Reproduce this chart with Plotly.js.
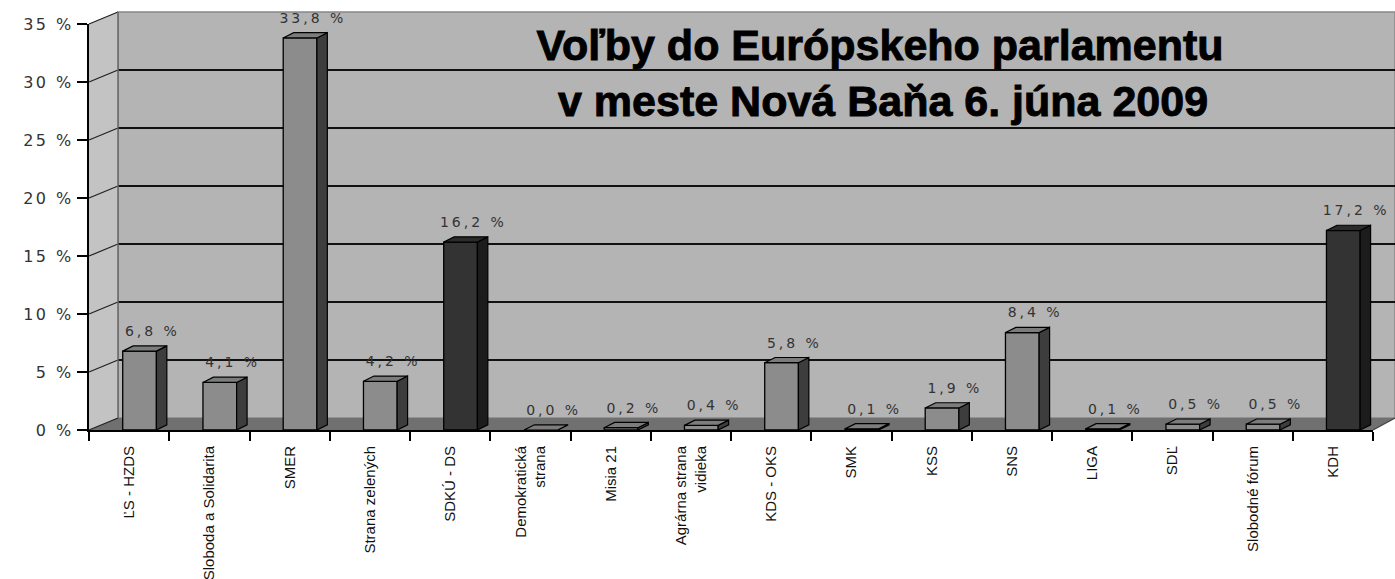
<!DOCTYPE html>
<html>
<head>
<meta charset="utf-8">
<script src="https://cdn.plot.ly/plotly-3.0.1.min.js"></script>
<style>
html,body{margin:0;padding:0;background:#fff;}
#chart .ytick text{letter-spacing:2.5px;}
#chart .textpoint text{letter-spacing:3px;}
#chart .gtitle, #chart .annotation-text{stroke:#000;stroke-width:0.9px;}
</style>
</head>
<body>
<div id="chart" style="width:1395px;height:579px;"></div>
<script>
// ---- data ----
const categories = ['ĽS - HZDS', 'Sloboda a Solidarita', 'SMER', 'Strana zelených', 'SDKÚ - DS',
  'Demokratická<br>strana', 'Misia 21', 'Agrárna strana<br>vidieka', 'KDS - OKS', 'SMK', 'KSS',
  'SNS', 'LIGA', 'SDĽ', 'Slobodné fórum', 'KDH'];
const values = [6.8, 4.1, 33.8, 4.2, 16.2, 0.0, 0.2, 0.4, 5.8, 0.1, 1.9, 8.4, 0.1, 0.5, 0.5, 17.2];
const darkParties = ['SDKÚ - DS', 'KDH'];
const yTicks = [0, 5, 10, 15, 20, 25, 30, 35];
const titleLine1 = 'Voľby do Európskeho parlamentu';
const titleLine2 = 'v meste Nová Baňa 6. júna 2009';

// ---- geometry / style ----
const yMax = 35;
const plotL = 89, plotR = 22, plotT = 24, plotB = 149;
const W = 1395, H = 579;
const plotW = W - plotL - plotR, plotH = H - plotT - plotB;
const wallDXpx = 29, wallDYpx = 12;
const wallX0 = wallDXpx / plotW;
const wallX1 = (W - plotL) / plotW;
const wallDY = wallDYpx / plotH; // paper units
const barOff = -0.08, barW = 0.42, depthX = 0.13, depthY = 0.45;

const idx = categories.map((c, i) => i);
const isDark = categories.map(c => darkParties.includes(c));
const front = isDark.map(d => d ? '#333333' : '#8c8c8c');

function polys(sel, kind) {
  const xs = [], ys = [];
  idx.forEach(i => {
    if (isDark[i] !== sel) return;
    const v = values[i];
    const xl = i + barOff, xr = i + barOff + barW;
    if (kind === 'side') {
      xs.push(xr, xr + depthX, xr + depthX, xr, xr, null);
      ys.push(0, depthY, v + depthY, v, 0, null);
    } else {
      xs.push(xl, xr, xr + depthX, xl + depthX, xl, null);
      ys.push(v, v, v + depthY, v + depthY, v, null);
    }
  });
  return {xs, ys};
}

const traces = [{
  type: 'bar', x: idx, y: values, offset: barOff, width: barW,
  marker: {color: front, line: {color: '#000', width: 1.3}},
  hoverinfo: 'skip'
}];
[[false, 'side', '#3d3d3d'], [true, 'side', '#1c1c1c'], [false, 'top', '#7c7c7c'], [true, 'top', '#2b2b2b']]
  .forEach(([sel, kind, col]) => {
    const p = polys(sel, kind);
    traces.push({type: 'scatter', mode: 'lines', x: p.xs, y: p.ys, fill: 'toself',
      fillcolor: col, line: {color: '#000', width: 1.2}, hoverinfo: 'skip', connectgaps: false});
  });
traces.push({
  type: 'scatter', mode: 'text', x: idx.map(i => i + 0.29), y: values.map(v => v + 1.0),
  text: values.map(v => v.toFixed(1).replace('.', ',') + ' %'),
  textposition: 'top center', cliponaxis: false,
  textfont: {family: 'DejaVu Sans', size: 14, color: '#333'}, hoverinfo: 'skip'
});

const shapes = [];
// back wall
shapes.push({type: 'rect', xref: 'paper', yref: 'paper', x0: wallX0, x1: wallX1, y0: wallDY, y1: 1 + wallDY,
  fillcolor: '#b4b4b4', line: {color: '#888', width: 1.5}, layer: 'below'});
// left wall
shapes.push({type: 'path', xref: 'paper', yref: 'paper',
  path: `M 0,0 L ${wallX0},${wallDY} L ${wallX0},${1 + wallDY} L 0,1 Z`,
  fillcolor: '#c3c3c3', line: {width: 0}, layer: 'below'});
// floor
shapes.push({type: 'path', xref: 'paper', yref: 'paper',
  path: `M 0,0 L 1,0 L ${wallX1},${wallDY} L ${wallX0},${wallDY} Z`,
  fillcolor: '#707070', line: {width: 0}, layer: 'below'});
// grid lines on walls
yTicks.forEach(t => {
  const yp = t / yMax;
  if (t > 0 && t < yMax) {
    shapes.push({type: 'line', xref: 'paper', yref: 'paper', x0: wallX0, x1: wallX1, y0: yp + wallDY, y1: yp + wallDY,
      line: {color: '#111', width: 1.8}, layer: 'below'});
  }
  shapes.push({type: 'line', xref: 'paper', yref: 'paper', x0: 0, x1: wallX0, y0: yp, y1: yp + wallDY,
    line: {color: '#222', width: 1.3}, layer: 'below'});
});
shapes.push({type: 'line', xref: 'paper', yref: 'paper', x0: wallX0, x1: wallX0, y0: wallDY, y1: 1 + wallDY,
  line: {color: '#666', width: 1.5}, layer: 'below'});
shapes.push({type: 'line', xref: 'paper', yref: 'paper', x0: 1, x1: wallX1, y0: 0, y1: wallDY,
  line: {color: '#444', width: 1.3}, layer: 'below'});

const titleFont = {family: 'Liberation Sans', size: 43, weight: 700, color: '#000'};
const layout = {
  width: W, height: H,
  margin: {l: plotL, r: plotR, t: plotT, b: plotB, pad: 0},
  paper_bgcolor: '#ffffff', plot_bgcolor: 'rgba(0,0,0,0)',
  showlegend: false, hovermode: false,
  title: {text: titleLine1, x: 880 / W, xref: 'container', xanchor: 'center',
    y: 1 - 45 / H, yref: 'container', yanchor: 'middle', font: titleFont},
  annotations: [{text: titleLine2, xref: 'paper', yref: 'paper', showarrow: false,
    x: (883 - plotL) / plotW, y: 1 - (101 - plotT) / plotH, xanchor: 'center', yanchor: 'middle',
    font: titleFont}],
  xaxis: {
    range: [-0.5, categories.length - 0.5], tickvals: idx, ticktext: categories,
    tickangle: -90, ticks: '', showgrid: false, zeroline: false,
    showline: true, linecolor: '#000', linewidth: 2,
    ticklabelstandoff: 8,
    tickfont: {family: 'Liberation Sans', size: 15, color: '#111'},
    minor: {tick0: -0.5, dtick: 1, ticks: 'outside', ticklen: 9, tickwidth: 2, tickcolor: '#000', showgrid: false}
  },
  yaxis: {
    range: [0, yMax], tickvals: yTicks, ticktext: yTicks.map(t => t + ' %'),
    ticks: 'outside', ticklen: 10, tickwidth: 2, tickcolor: '#000',
    showline: true, linecolor: '#000', linewidth: 2, showgrid: false, zeroline: false,
    tickfont: {family: 'DejaVu Sans', size: 16, color: '#333'}
  },
  shapes: shapes
};

Plotly.newPlot('chart', traces, layout, {displayModeBar: false, staticPlot: true});
</script>
</body>
</html>
